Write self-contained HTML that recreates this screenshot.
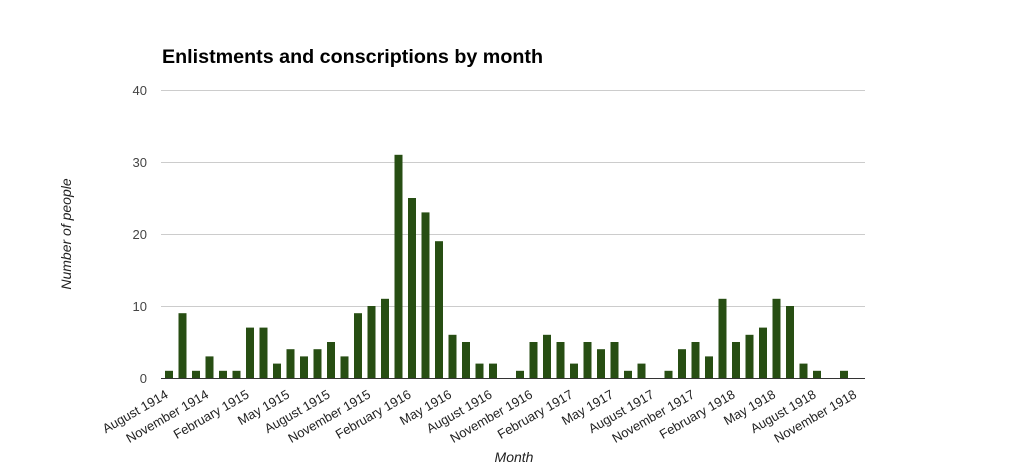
<!DOCTYPE html>
<html><head><meta charset="utf-8"><style>
html,body{margin:0;padding:0;background:#fff;}
svg{display:block;font-family:"Liberation Sans",Arial,sans-serif;}
</style></head><body>
<svg width="1027" height="468" viewBox="0 0 1027 468" xmlns="http://www.w3.org/2000/svg">
<rect width="1027" height="468" fill="#fff"/>
<text x="162" y="63" font-size="19" font-weight="bold" fill="#000" textLength="381" lengthAdjust="spacingAndGlyphs">Enlistments and conscriptions by month</text>
<g stroke="#cccccc" stroke-width="1">
<line x1="161" y1="90.5" x2="865" y2="90.5"/>
<line x1="161" y1="162.5" x2="865" y2="162.5"/>
<line x1="161" y1="234.5" x2="865" y2="234.5"/>
<line x1="161" y1="306.5" x2="865" y2="306.5"/>
</g>
<g font-size="13" fill="#444" text-anchor="end">
<text x="147" y="95">40</text>
<text x="147" y="167">30</text>
<text x="147" y="239">20</text>
<text x="147" y="311">10</text>
<text x="147" y="383">0</text>
</g>
<g fill="#274e13">
<rect x="165" y="370.8" width="8" height="7.2"/>
<rect x="178.5" y="313.2" width="8" height="64.8"/>
<rect x="192" y="370.8" width="8" height="7.2"/>
<rect x="205.5" y="356.4" width="8" height="21.6"/>
<rect x="219" y="370.8" width="8" height="7.2"/>
<rect x="232.5" y="370.8" width="8" height="7.2"/>
<rect x="246" y="327.6" width="8" height="50.4"/>
<rect x="259.5" y="327.6" width="8" height="50.4"/>
<rect x="273" y="363.6" width="8" height="14.4"/>
<rect x="286.5" y="349.2" width="8" height="28.8"/>
<rect x="300" y="356.4" width="8" height="21.6"/>
<rect x="313.5" y="349.2" width="8" height="28.8"/>
<rect x="327" y="342" width="8" height="36"/>
<rect x="340.5" y="356.4" width="8" height="21.6"/>
<rect x="354" y="313.2" width="8" height="64.8"/>
<rect x="367.5" y="306" width="8" height="72"/>
<rect x="381" y="298.8" width="8" height="79.2"/>
<rect x="394.5" y="154.8" width="8" height="223.2"/>
<rect x="408" y="198" width="8" height="180"/>
<rect x="421.5" y="212.4" width="8" height="165.6"/>
<rect x="435" y="241.2" width="8" height="136.8"/>
<rect x="448.5" y="334.8" width="8" height="43.2"/>
<rect x="462" y="342" width="8" height="36"/>
<rect x="475.5" y="363.6" width="8" height="14.4"/>
<rect x="489" y="363.6" width="8" height="14.4"/>
<rect x="516" y="370.8" width="8" height="7.2"/>
<rect x="529.5" y="342" width="8" height="36"/>
<rect x="543" y="334.8" width="8" height="43.2"/>
<rect x="556.5" y="342" width="8" height="36"/>
<rect x="570" y="363.6" width="8" height="14.4"/>
<rect x="583.5" y="342" width="8" height="36"/>
<rect x="597" y="349.2" width="8" height="28.8"/>
<rect x="610.5" y="342" width="8" height="36"/>
<rect x="624" y="370.8" width="8" height="7.2"/>
<rect x="637.5" y="363.6" width="8" height="14.4"/>
<rect x="664.5" y="370.8" width="8" height="7.2"/>
<rect x="678" y="349.2" width="8" height="28.8"/>
<rect x="691.5" y="342" width="8" height="36"/>
<rect x="705" y="356.4" width="8" height="21.6"/>
<rect x="718.5" y="298.8" width="8" height="79.2"/>
<rect x="732" y="342" width="8" height="36"/>
<rect x="745.5" y="334.8" width="8" height="43.2"/>
<rect x="759" y="327.6" width="8" height="50.4"/>
<rect x="772.5" y="298.8" width="8" height="79.2"/>
<rect x="786" y="306" width="8" height="72"/>
<rect x="799.5" y="363.6" width="8" height="14.4"/>
<rect x="813" y="370.8" width="8" height="7.2"/>
<rect x="840" y="370.8" width="8" height="7.2"/>
</g>
<line x1="161" y1="378.5" x2="865" y2="378.5" stroke="#333" stroke-width="1"/>
<g font-size="13" fill="#222" text-anchor="end">
<text transform="translate(169,397) rotate(-30)">August 1914</text>
<text transform="translate(209.5,397) rotate(-30)">November 1914</text>
<text transform="translate(250,397) rotate(-30)">February 1915</text>
<text transform="translate(290.5,397) rotate(-30)">May 1915</text>
<text transform="translate(331,397) rotate(-30)">August 1915</text>
<text transform="translate(371.5,397) rotate(-30)">November 1915</text>
<text transform="translate(412,397) rotate(-30)">February 1916</text>
<text transform="translate(452.5,397) rotate(-30)">May 1916</text>
<text transform="translate(493,397) rotate(-30)">August 1916</text>
<text transform="translate(533.5,397) rotate(-30)">November 1916</text>
<text transform="translate(574,397) rotate(-30)">February 1917</text>
<text transform="translate(614.5,397) rotate(-30)">May 1917</text>
<text transform="translate(655,397) rotate(-30)">August 1917</text>
<text transform="translate(695.5,397) rotate(-30)">November 1917</text>
<text transform="translate(736,397) rotate(-30)">February 1918</text>
<text transform="translate(776.5,397) rotate(-30)">May 1918</text>
<text transform="translate(817,397) rotate(-30)">August 1918</text>
<text transform="translate(857.5,397) rotate(-30)">November 1918</text>
</g>
<text transform="translate(71,234) rotate(-90)" font-size="14" font-style="italic" fill="#222" text-anchor="middle">Number of people</text>
<text x="514" y="462" font-size="14" font-style="italic" fill="#222" text-anchor="middle">Month</text>
</svg>
</body></html>
